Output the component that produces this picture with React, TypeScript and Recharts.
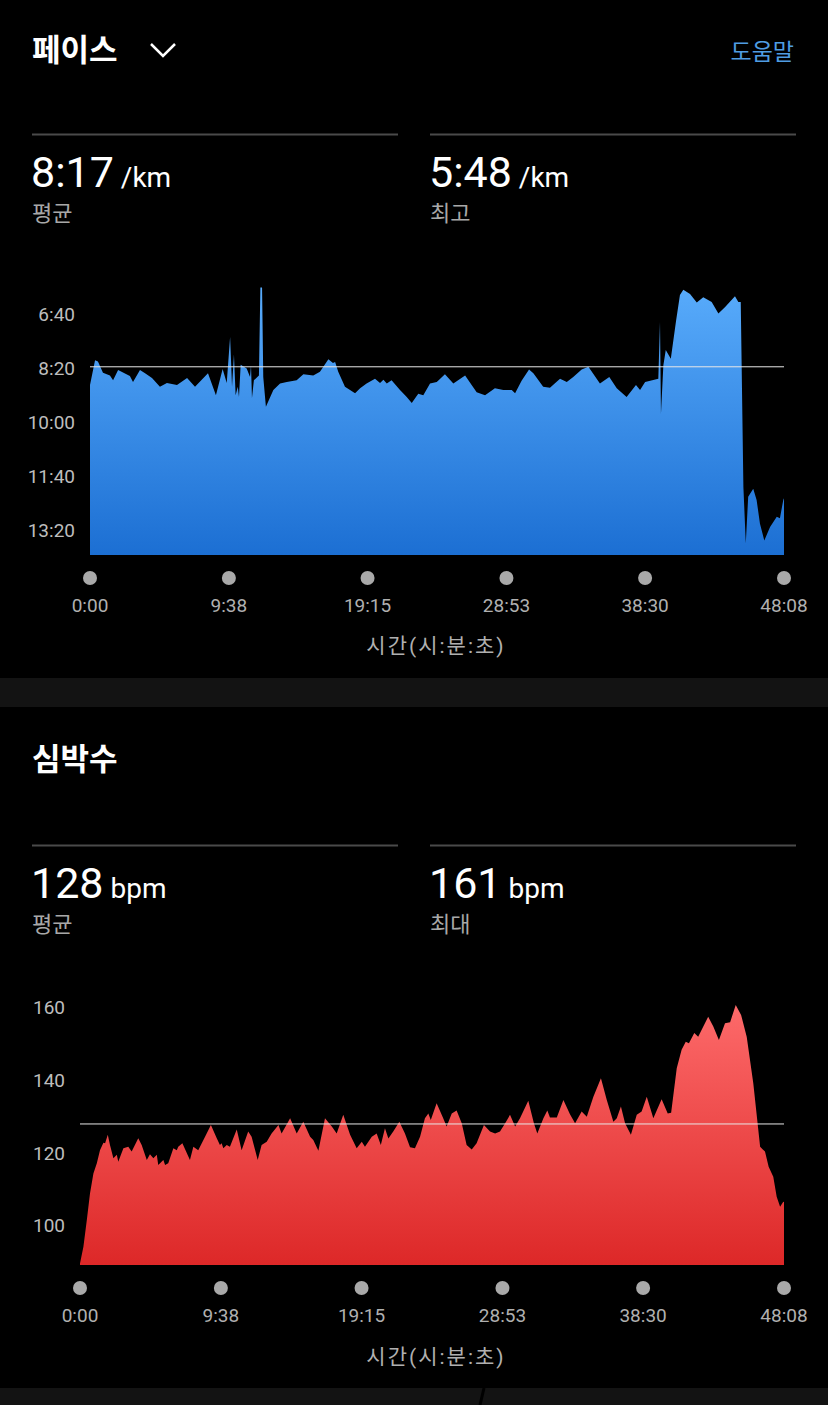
import React from 'react';
import { AreaChart, Area, XAxis, YAxis, ReferenceLine } from 'recharts';

const FONT = "Roboto, 'Noto Sans CJK KR', sans-serif";

// shared time axis (seconds)
const timeTicks = [0, 578, 1155, 1733, 2310, 2888];
const timeTickLabels = ['0:00', '9:38', '19:15', '28:53', '38:30', '48:08'];

// pace (seconds per km)
const paceTicks = [400, 500, 600, 700, 800];
const paceTickLabels = ['6:40', '8:20', '10:00', '11:40', '13:20'];
const paceAvg = 497; // 8:17
const paceTime = [
  0, 21, 33, 54, 83, 96, 117, 166, 179, 208,
  229, 258, 291, 320, 362, 404, 437, 491, 524, 552,
  569, 583, 591, 599, 606, 615, 620, 627, 652, 666,
  670, 674, 682, 703, 709, 716, 721, 732, 763, 791,
  819, 860, 888, 929, 957, 992, 1011, 1020, 1033, 1061,
  1103, 1124, 1151, 1186, 1207, 1221, 1235, 1255, 1290, 1318,
  1339, 1366, 1387, 1415, 1443, 1477, 1512, 1561, 1609, 1644,
  1685, 1720, 1755, 1769, 1796, 1827, 1845, 1886, 1914, 1956,
  1984, 2011, 2046, 2074, 2122, 2161, 2192, 2233, 2272, 2289,
  2310, 2365, 2372, 2376, 2386, 2396, 2417, 2439, 2455, 2469,
  2497, 2525, 2552, 2587, 2615, 2643, 2684, 2698, 2708, 2719,
  2729, 2739, 2760, 2774, 2788, 2806, 2830, 2858, 2871, 2885,
  2888,
];
const paceSec = [
  531, 485, 487, 508, 513, 522, 503, 514, 525, 503,
  509, 518, 534, 527, 531, 518, 534, 509, 550, 501,
  527, 442, 534, 474, 550, 534, 553, 493, 500, 516,
  494, 555, 522, 513, 350, 350, 516, 571, 540, 528,
  525, 522, 511, 513, 506, 483, 490, 488, 506, 534,
  546, 537, 528, 519, 527, 521, 528, 522, 540, 553,
  564, 547, 550, 528, 525, 511, 528, 513, 544, 550,
  537, 540, 540, 546, 523, 502, 509, 534, 536, 519,
  525, 516, 502, 497, 528, 516, 537, 553, 531, 540,
  525, 519, 414, 584, 494, 466, 482, 411, 364, 354,
  362, 378, 368, 377, 398, 386, 366, 377, 377, 720,
  824, 738, 723, 744, 788, 819, 794, 775, 778, 744,
  741,
];

// heart rate (bpm)
const hrTicks = [100, 120, 140, 160];
const hrTickLabels = ['100', '120', '140', '160'];
const hrAvg = 128;
const hrTime = [
  0, 14, 28, 41, 55, 69, 82, 96, 103, 114,
  123, 137, 151, 157, 178, 198, 212, 239, 253, 274,
  287, 301, 315, 321, 342, 349, 362, 383, 397, 403,
  420, 451, 465, 485, 513, 537, 561, 574, 581, 588,
  602, 615, 643, 663, 690, 704, 729, 745, 766, 786,
  814, 827, 862, 889, 916, 944, 957, 978, 1005, 1033,
  1053, 1080, 1108, 1135, 1156, 1169, 1197, 1217, 1234, 1251,
  1265, 1285, 1310, 1333, 1354, 1374, 1395, 1415, 1429, 1439,
  1463, 1490, 1504, 1525, 1545, 1566, 1586, 1607, 1627, 1657,
  1682, 1703, 1723, 1744, 1764, 1785, 1805, 1839, 1862, 1876,
  1901, 1917, 1928, 1956, 1983, 2010, 2031, 2058, 2079, 2106,
  2137, 2161, 2188, 2202, 2219, 2236, 2260, 2284, 2304, 2325,
  2352, 2386, 2411, 2425, 2448, 2468, 2485, 2498, 2520, 2536,
  2577, 2598, 2621, 2646, 2667, 2690, 2712, 2735, 2762, 2790,
  2810, 2825, 2844, 2858, 2872, 2885, 2888,
];
const hrBpm = [
  89.6, 94.2, 101.6, 108.9, 114.4, 117.2, 120.8, 122.8, 122.7, 125,
  122.2, 118.6, 119.5, 117.6, 121.3, 121.7, 120.4, 124.1, 122.2, 118.1,
  119.7, 118.6, 119.5, 116.7, 118.1, 116.7, 117.2, 121.3, 120.8, 121.7,
  122.7, 118.1, 121.7, 120.8, 124.5, 127.7, 124.1, 122.2, 122.7, 121.3,
  122.2, 121.7, 126.5, 120.8, 125.9, 124.5, 118.1, 122.2, 123.1, 125.4,
  127.7, 125.4, 129.6, 125.4, 128.6, 124.5, 123.6, 120.6, 129.6, 127.3,
  125.4, 130.5, 125, 121.3, 123.1, 121.7, 124.5, 125.4, 122.2, 126.8,
  124, 125.9, 128.6, 125.4, 121.6, 121.3, 124.5, 129.6, 130.9, 129.1,
  133.7, 129.6, 127.3, 130.9, 131.7, 128.2, 122.2, 121, 122.7, 127.7,
  125.9, 125.4, 125.9, 128.2, 130.5, 127.3, 129.6, 134.4, 128.2, 125.4,
  129.6, 131.7, 129.8, 129.8, 134.6, 130.7, 128.2, 131.4, 130, 135.5,
  140.6, 134.6, 128.6, 129.6, 132.8, 128.2, 125, 130.5, 131.4, 135.5,
  129.6, 134.8, 130.9, 131.1, 143.3, 148.4, 150.6, 150.2, 153, 152,
  157.5, 154.8, 151.1, 155.7, 156, 160.7, 158, 152, 139.2, 121.7,
  120.4, 116.2, 113.5, 108, 105.2, 106.6, 106.5,
];

const paceData = paceTime.map((t, i) => ({ t, v: paceSec[i] }));
const hrData = hrTime.map((t, i) => ({ t, v: hrBpm[i] }));

const TimeTick = (props: any) => {
  const { x, y, payload } = props;
  const i = timeTicks.indexOf(payload.value);
  return (
    <g>
      <circle cx={x} cy={y + 23} r={7} fill="#a9a9a9" />
      <text x={x} y={y + 57} textAnchor="middle" fill="#b0b0b0" fontSize={19} fontFamily={FONT}>
        {timeTickLabels[i]}
      </text>
    </g>
  );
};

const makeYTick = (ticks: number[], labels: string[]) => (props: any) => {
  const { x, y, payload } = props;
  const i = ticks.indexOf(payload.value);
  return (
    <text x={x} y={y} dy="0.355em" textAnchor="end" fill="#bdbdbd" fontSize={19} fontFamily={FONT}>
      {labels[i]}
    </text>
  );
};

const PaceYTick = makeYTick(paceTicks, paceTickLabels);
const HrYTick = makeYTick(hrTicks, hrTickLabels);

const W = 828;

export default function App() {
  const title = { fontSize: 31, fontWeight: 700, fill: '#ffffff', fontFamily: FONT } as const;
  const big = { fontSize: 43, fill: '#ffffff', fontFamily: FONT } as const;
  const sub = { fontSize: 22, fill: '#a8a8a8', fontFamily: FONT } as const;
  const axisLabel = { fontSize: 21, fill: '#b0b0b0', fontFamily: FONT, letterSpacing: 2 } as const;
  return (
    <div style={{ position: 'absolute', left: 0, top: 0, width: W, height: 1405, background: '#000', overflow: 'hidden' }}>
      <svg width={W} height={1405} style={{ position: 'absolute', left: 0, top: 0 }}>
        {/* pace header */}
        <text x={32} y={61} {...title}>페이스</text>
        <polyline points="151,44 163,56 175,44" fill="none" stroke="#ffffff" strokeWidth={2.5} />
        <text x={794} y={60} textAnchor="end" fontSize={23} fill="#4f9de3" fontFamily={FONT}>도움말</text>
        <rect x={32} y={133.5} width={366} height={2} fill="#4a4a4a" />
        <rect x={430} y={133.5} width={366} height={2} fill="#4a4a4a" />
        <text x={31} y={187} {...big}>8:17<tspan fontSize={28}>{' /km'}</tspan></text>
        <text x={32} y={221} {...sub}>평균</text>
        <text x={429} y={187} {...big}>5:48<tspan fontSize={28}>{' /km'}</tspan></text>
        <text x={430} y={221} {...sub}>최고</text>
        <text x={436} y={653} textAnchor="middle" {...axisLabel}>시간(시:분:초)</text>
        <rect x={0} y={678} width={W} height={29} fill="#131313" />
        {/* heart rate header */}
        <text x={32} y={770} {...title}>심박수</text>
        <rect x={32} y={844.5} width={366} height={2} fill="#4a4a4a" />
        <rect x={430} y={844.5} width={366} height={2} fill="#4a4a4a" />
        <text x={31} y={898} {...big}>128<tspan fontSize={28}>{' bpm'}</tspan></text>
        <text x={32} y={932} {...sub}>평균</text>
        <text x={429} y={898} {...big}>161<tspan fontSize={28}>{' bpm'}</tspan></text>
        <text x={430} y={932} {...sub}>최대</text>
        <text x={436} y={1364} textAnchor="middle" {...axisLabel}>시간(시:분:초)</text>
        <rect x={0} y={1388} width={W} height={17} fill="#131313" />
        <line x1={484} y1={1388} x2={480} y2={1405} stroke="#000" strokeWidth={3} />
      </svg>

      <div style={{ position: 'absolute', left: 0, top: 240 }}>
        <AreaChart width={W} height={415} data={paceData} margin={{ top: 20, right: 44, bottom: 0, left: 0 }}>
          <defs>
            <linearGradient id="paceGrad" x1="0" y1="0" x2="0" y2="1">
              <stop offset="0%" stopColor="#58abfb" />
              <stop offset="100%" stopColor="#1c6fd3" />
            </linearGradient>
          </defs>
          <XAxis
            dataKey="t"
            type="number"
            domain={[0, 2888]}
            ticks={timeTicks}
            interval={0}
            axisLine={false}
            tickLine={false}
            tickSize={0}
            tickMargin={0}
            height={100}
            tick={<TimeTick />}
          />
          <YAxis
            type="number"
            domain={[299, 846]}
            reversed
            ticks={paceTicks}
            interval={0}
            axisLine={false}
            tickLine={false}
            tickSize={0}
            tickMargin={15}
            width={90}
            tick={<PaceYTick />}
            allowDataOverflow
          />
          <Area
            type="linear"
            dataKey="v"
            baseValue="dataMax"
            stroke="none"
            fill="url(#paceGrad)"
            fillOpacity={1}
            isAnimationActive={false}
            dot={false}
            activeDot={false}
          />
          <ReferenceLine y={paceAvg} stroke="#e8e8e8" strokeWidth={1} />
        </AreaChart>
      </div>

      <div style={{ position: 'absolute', left: 0, top: 960 }}>
        <AreaChart width={W} height={415} data={hrData} margin={{ top: 20, right: 44, bottom: 0, left: 0 }}>
          <defs>
            <linearGradient id="hrGrad" x1="0" y1="0" x2="0" y2="1">
              <stop offset="0%" stopColor="#fd6a6a" />
              <stop offset="100%" stopColor="#dd2828" />
            </linearGradient>
          </defs>
          <XAxis
            dataKey="t"
            type="number"
            domain={[0, 2888]}
            ticks={timeTicks}
            interval={0}
            axisLine={false}
            tickLine={false}
            tickSize={0}
            tickMargin={0}
            height={110}
            tick={<TimeTick />}
          />
          <YAxis
            type="number"
            domain={[89.2, 167.6]}
            ticks={hrTicks}
            interval={0}
            axisLine={false}
            tickLine={false}
            tickSize={0}
            tickMargin={15}
            width={80}
            tick={<HrYTick />}
            allowDataOverflow
          />
          <Area
            type="linear"
            dataKey="v"
            stroke="none"
            fill="url(#hrGrad)"
            fillOpacity={1}
            isAnimationActive={false}
            dot={false}
            activeDot={false}
          />
          <ReferenceLine y={hrAvg} stroke="#e8e8e8" strokeWidth={1} />
        </AreaChart>
      </div>
    </div>
  );
}
